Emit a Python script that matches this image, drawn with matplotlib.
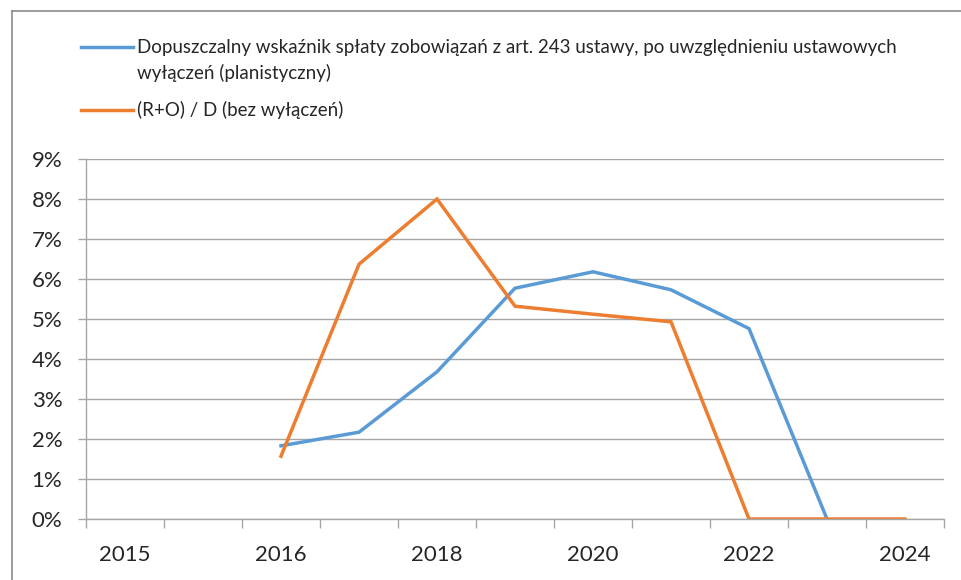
import matplotlib
matplotlib.use("Agg")
import matplotlib.pyplot as plt
from matplotlib.lines import Line2D
import numpy as np

plt.rcParams['font.family'] = ['Lato', 'DejaVu Sans']

# Category positions (11 categories, every other one labelled)
categories = list(range(11))
tick_positions = [0, 2, 4, 6, 8, 10]
tick_labels = ["2015", "2016", "2018", "2020", "2022", "2024"]

nan = np.nan
series_blue = [nan, nan, 1.83, 2.17, 3.68, 5.77, 6.18, 5.73, 4.76, 0.0, nan]
series_orange = [nan, nan, 1.57, 6.37, 8.0, 5.32, 5.12, 4.93, 0.0, 0.0, 0.0]
label_blue = "Dopuszczalny wskaźnik spłaty zobowiązań z art. 243 ustawy, po uwzględnieniu ustawowych\nwyłączeń (planistyczny)"
label_orange = "(R+O) / D (bez wyłączeń)"

blue = "#5B9BD5"
orange = "#ED7D31"
grid_c = "#A6A6A6"
text_c = "#262626"

fig = plt.figure(figsize=(9.62, 5.80), dpi=100)
ax = fig.add_axes([86/962, 1-519/580, (944-86)/962, (519-159)/580])

x = np.array(categories)
ax.plot(x, np.array(series_blue)/100, color=blue, lw=2.5, solid_joinstyle='miter')
ax.plot(x, np.array(series_orange)/100, color=orange, lw=2.5, solid_joinstyle='miter')

ax.set_xlim(-0.5, 10.5)
ax.set_ylim(0, 0.09)
ax.set_yticks(np.arange(0, 0.091, 0.01))
ax.set_yticklabels([f"{i}%" for i in range(10)])
ax.yaxis.grid(True, color=grid_c, lw=1.0)
ax.set_axisbelow(True)

ax.set_xticks(tick_positions)
ax.set_xticklabels(tick_labels)
ax.set_xticks(np.arange(-0.5, 10.6, 1), minor=True)
ax.tick_params(axis='x', which='major', length=0, pad=19, labelsize=16)
ax.tick_params(axis='x', which='minor', length=6.5, width=1.0, color=grid_c, direction='out')
ax.tick_params(axis='y', length=6, width=1.0, color=grid_c, pad=11, labelsize=16)
for t in ax.get_xticklabels() + ax.get_yticklabels():
    t.set_color(text_c)

for s in ['top', 'right']:
    ax.spines[s].set_visible(False)
for s in ['left', 'bottom']:
    ax.spines[s].set_color(grid_c)
    ax.spines[s].set_linewidth(1.0)

# Legend (drawn at the top of the figure)
def fx(px):
    return px / 962
def fy(py):
    return 1 - py / 580

legend_items = [(blue, label_blue, 47), (orange, label_orange, 110)]
for color, label, ypx in legend_items:
    fig.add_artist(Line2D([fx(81), fx(133)], [fy(ypx), fy(ypx)], color=color, lw=2.5,
                          transform=fig.transFigure))
    for i, line in enumerate(label.split("\n")):
        fig.text(fx(137), fy(ypx + 26 * i), line, fontsize=13.5, color=text_c,
                 va='center', ha='left', transform=fig.transFigure)

# Outer chart frame (top and left edges visible)
fig.add_artist(Line2D([fx(12), fx(12)], [fy(11), 0], color='#8C8C8C', lw=1.2, transform=fig.transFigure))
fig.add_artist(Line2D([fx(12), 1], [fy(11), fy(11)], color='#8C8C8C', lw=1.2, transform=fig.transFigure))

fig.savefig("out.png", dpi=100, facecolor='white')
